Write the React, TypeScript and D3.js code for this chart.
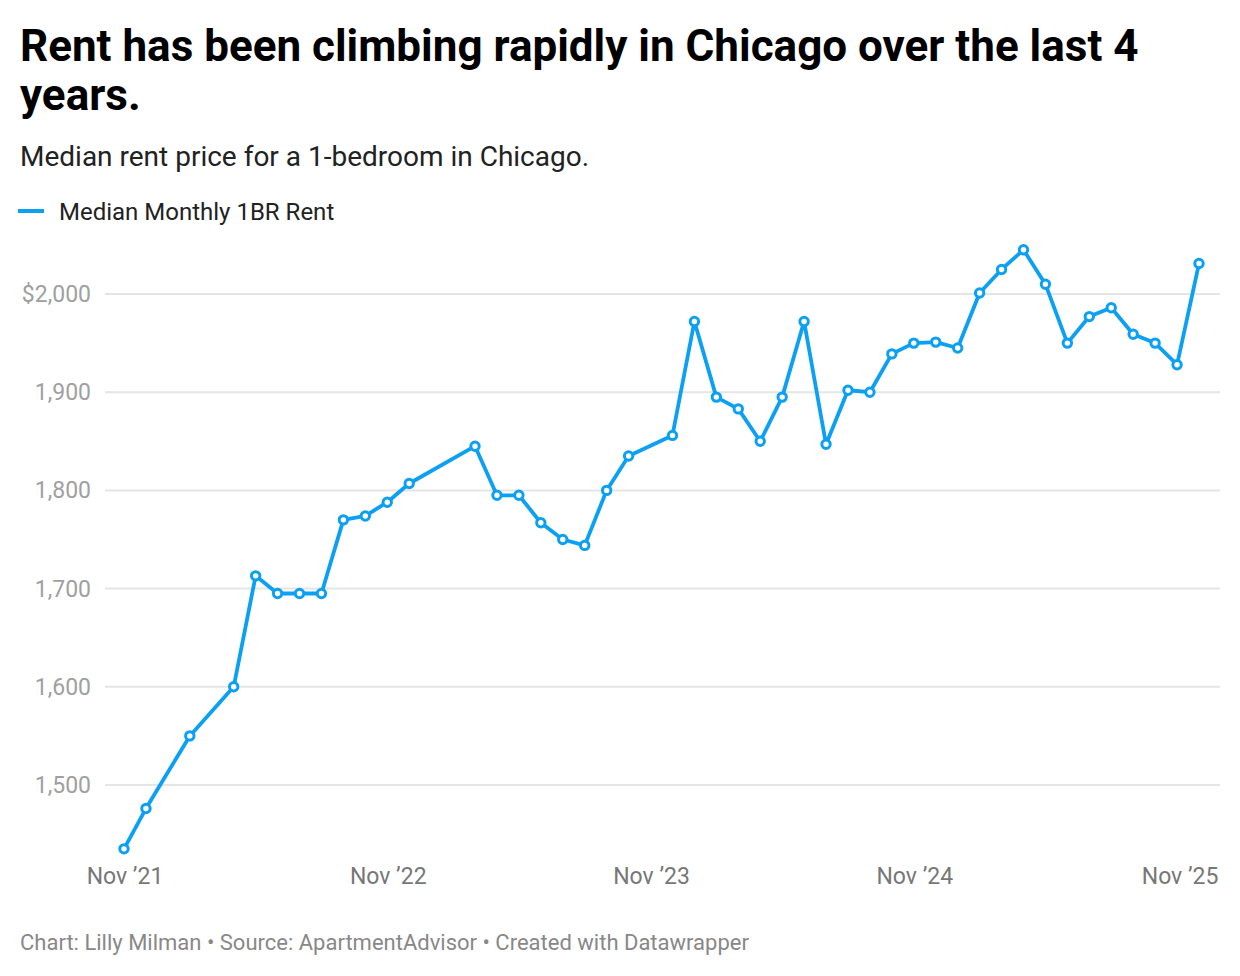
import * as d3 from 'd3';

const months = [
    '2021-11', '2021-12', '2022-02', '2022-04', '2022-05', '2022-06', '2022-07', '2022-08',
    '2022-09', '2022-10', '2022-11', '2022-12', '2023-03', '2023-04', '2023-05', '2023-06',
    '2023-07', '2023-08', '2023-09', '2023-10', '2023-12', '2024-01', '2024-02', '2024-03',
    '2024-04', '2024-05', '2024-06', '2024-07', '2024-08', '2024-09', '2024-10', '2024-11',
    '2024-12', '2025-01', '2025-02', '2025-03', '2025-04', '2025-05', '2025-06', '2025-07',
    '2025-08', '2025-09', '2025-10', '2025-11', '2025-12',
];

const rent = [
    1435, 1476, 1550, 1600, 1713, 1695, 1695, 1695,
    1770, 1774, 1788, 1807, 1845, 1795, 1795, 1767,
    1750, 1744, 1800, 1835, 1856, 1972, 1895, 1883,
    1850, 1895, 1972, 1847, 1902, 1900, 1939, 1950,
    1951, 1945, 2001, 2025, 2045, 2010, 1950, 1977,
    1986, 1959, 1950, 1928, 2031,
];

const yTicks = [1500, 1600, 1700, 1800, 1900, 2000];
const xTicks = ['2021-11', '2022-11', '2023-11', '2024-11', '2025-11'];

const title = ['Rent has been climbing rapidly in Chicago over the last 4', 'years.'];
const subtitle = 'Median rent price for a 1-bedroom in Chicago.';
const seriesName = 'Median Monthly 1BR Rent';
const footer = 'Chart: Lilly Milman • Source: ApartmentAdvisor • Created with Datawrapper';

const blue = '#0ca0f5';
const font = 'Roboto, sans-serif';

const parse = d3.utcParse('%Y-%m');
const start = parse(months[0]) as Date;
const idx = (m: string) => d3.utcMonth.count(start, parse(m) as Date);

export default function App() {
    const width = 1240,
        height = 976;
    const plot = { left: 105, right: 1220 };

    const x = d3.scaleLinear().domain([0, idx(months[months.length - 1])]).range([124, 1199]);
    const y = d3.scaleLinear().domain([1500, 2000]).range([785, 294]);

    const points = months.map((m, i) => ({ i: idx(m), v: rent[i] }));
    const line = d3
        .line<{ i: number; v: number }>()
        .x((d) => x(d.i))
        .y((d) => y(d.v));

    const fmtTick = (m: string) => {
        const d = parse(m) as Date;
        return d3.utcFormat('%b')(d) + ' \u2019' + d3.utcFormat('%y')(d);
    };

    return (
        <svg
            width={width}
            height={height}
            style={{ position: 'absolute', left: 0, top: 0, background: '#fff' }}
            fontFamily={font}
        >
            <rect width={width} height={height} fill="#fff" />
            {title.map((t, i) => (
                <text key={t} x={20} y={61 + i * 49} fontSize={44} fontWeight={700} fill="#000">
                    {t}
                </text>
            ))}
            <text x={20} y={166} fontSize={28} fill="#222">
                {subtitle}
            </text>

            <line x1={18} x2={44} y1={211} y2={211} stroke={blue} strokeWidth={4} />
            <text x={59} y={220} fontSize={24} fill="#222">
                {seriesName}
            </text>

            {yTicks.map((t) => (
                <g key={t}>
                    <line x1={plot.left} x2={plot.right} y1={y(t)} y2={y(t)} stroke="#e5e5e5" strokeWidth={2} />
                    <text x={91} y={y(t)} dy="0.35em" textAnchor="end" fontSize={23} fill="#a0a0a0">
                        {t === 2000 ? '$' + d3.format(',')(t) : d3.format(',')(t)}
                    </text>
                </g>
            ))}

            {xTicks.map((m, i) => (
                <text
                    key={m}
                    x={x(idx(m)) + (i === xTicks.length - 1 ? 3 : 1)}
                    y={884}
                    textAnchor="middle"
                    fontSize={23}
                    fill="#777"
                >
                    {fmtTick(m)}
                </text>
            ))}

            <path d={line(points) ?? ''} fill="none" stroke={blue} strokeWidth={3.8} strokeLinejoin="round" />
            {points.map((p) => (
                <circle key={p.i} cx={x(p.i)} cy={y(p.v)} r={4.2} fill="#fff" stroke={blue} strokeWidth={3} />
            ))}

            <text x={20} y={950} fontSize={22} fill="#888">
                {footer}
            </text>
        </svg>
    );
}
